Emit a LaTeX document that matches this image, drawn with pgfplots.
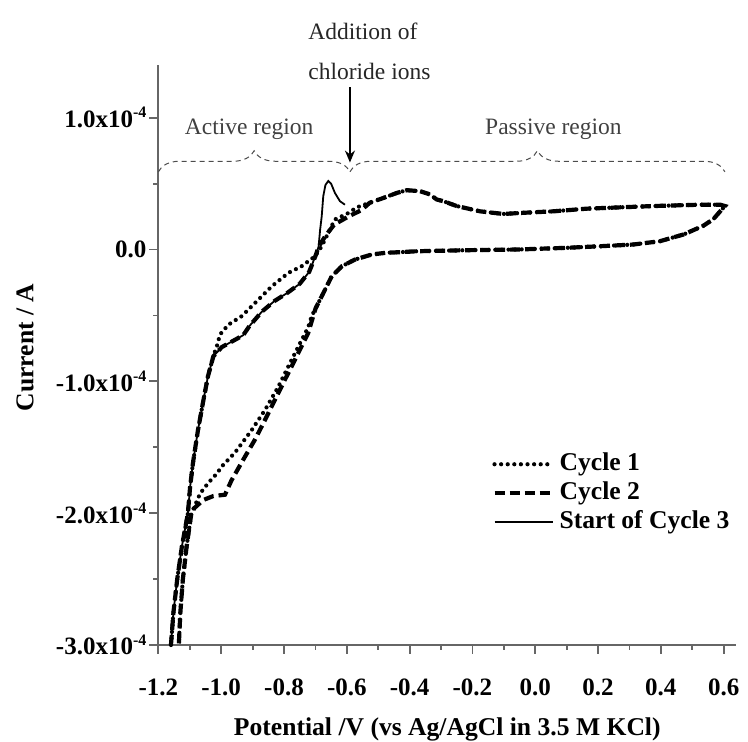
\documentclass[border=0pt]{standalone}
\usepackage{fontspec}
\setmainfont{Liberation Serif}
\usepackage{pgfplots}
\pgfplotsset{compat=1.18}
\usetikzlibrary{decorations.pathreplacing,arrows.meta}
\newcommand{\sci}[1]{#1x10\raisebox{0.85ex}{\fontsize{8}{9}\selectfont -4}}
\begin{document}
\begin{tikzpicture}
\path[use as bounding box] (-79.2pt,-48.5pt) rectangle (294.8pt,322.5pt);
\begin{axis}[
  scale only axis, width=288.9pt, height=290pt,
  at={(0,0)}, anchor=south west,
  xmin=-1.2, xmax=0.64, ymin=-3.0, ymax=1.4,
  axis x line*=bottom, axis y line*=left,
  axis line style={line width=0.9pt, color=black!60, -},
  xtick={-1.2,-1.0,-0.8,-0.6,-0.4,-0.2,0,0.2,0.4,0.6},
  xticklabels={-1.2,-1.0,-0.8,-0.6,-0.4,-0.2,0.0,0.2,0.4,0.6},
  minor xtick={-1.1,-0.9,-0.7,-0.5,-0.3,-0.1,0.1,0.3,0.5},
  ytick={-3,-2,-1,0,1},
  yticklabels={\sci{-3.0},\sci{-2.0},\sci{-1.0},0.0\hspace{2.5pt},\sci{1.0}},
  minor ytick={-2.5,-1.5,-0.5,0.5},
  tick align=outside,
  major tick length=4.5pt, minor tick length=2.5pt,
  every tick/.style={line width=0.9pt, color=black!60},
  every minor tick/.style={line width=0.9pt, color=black!60},
  ticklabel style={font=\fontsize{12.5}{14}\selectfont\bfseries},
  xticklabel style={yshift=-9pt},
  yticklabel style={xshift=2pt},
  xlabel={Potential /V (vs Ag/AgCl in 3.5 M KCl)},
  ylabel={Current / A},
  xlabel style={font=\fontsize{12.8}{15}\selectfont\bfseries, at={(axis description cs:0.5,-0.146)}, anchor=center},
  ylabel style={font=\fontsize{12.8}{15}\selectfont\bfseries, at={(axis description cs:-0.2309,0.513)}, anchor=center},
  clip=false,
  legend cell align=left,
  legend style={draw=none, fill=none, at={(axis description cs:0.5774,0.333)}, anchor=north west,
    inner sep=0pt, row sep=2.5pt, column sep=2.5pt,
    nodes={inner sep=0pt, text height=9pt, text depth=3pt},
    font=\fontsize{12.8}{15}\selectfont\bfseries},
  legend image code/.code={\draw[#1] (0pt,0pt) -- (29pt,0pt);},
]
% Cycle 1
\addplot[black, line width=2.1pt, line cap=round, dash pattern=on 0pt off 3.3pt] coordinates {
(-1.160,-3.00) (-1.152,-2.75) (-1.140,-2.50) (-1.125,-2.25) (-1.106,-2.00) (-1.099,-1.80) (-1.090,-1.62) (-1.074,-1.37) (-1.058,-1.16) (-1.042,-0.96) (-1.025,-0.81)
(-1.012,-0.72) (-1.004,-0.645) (-0.977,-0.57) (-0.935,-0.506) (-0.892,-0.405) (-0.839,-0.279) (-0.786,-0.177) (-0.744,-0.127) (-0.701,-0.051) (-0.680,0.025) (-0.659,0.127) (-0.638,0.228) (-0.600,0.270)
(-0.568,0.32) (-0.527,0.355) (-0.485,0.39) (-0.440,0.43) (-0.409,0.45) (-0.367,0.443) (-0.335,0.418) (-0.314,0.38) (-0.293,0.367) (-0.250,0.33) (-0.176,0.29) (-0.102,0.27) (-0.027,0.28) (0.058,0.29) (0.164,0.31) (0.270,0.32) (0.376,0.33) (0.525,0.34) (0.589,0.34) (0.604,0.33)
(0.589,0.29) (0.567,0.23) (0.535,0.18) (0.472,0.114) (0.397,0.063) (0.312,0.038) (0.206,0.025) (0.100,0.013) (-0.059,0.0) (-0.218,-0.005) (-0.377,-0.013) (-0.430,-0.02) (-0.478,-0.025) (-0.521,-0.038) (-0.574,-0.076) (-0.616,-0.127) (-0.648,-0.203) (-0.680,-0.355)
(-0.712,-0.506) (-0.723,-0.59) (-0.754,-0.734) (-0.786,-0.886) (-0.818,-1.04) (-0.860,-1.215) (-0.903,-1.37) (-0.956,-1.54) (-0.998,-1.645) (-1.014,-1.70) (-1.041,-1.77) (-1.067,-1.85) (-1.085,-1.95) (-1.095,-2.00) (-1.110,-2.25) (-1.122,-2.50) (-1.130,-2.75) (-1.135,-3.00)
};
\addlegendentry{Cycle 1}
% Cycle 2
\addplot[black, line width=2.1pt, dash pattern=on 5pt off 2.5pt] coordinates {
(-1.160,-3.00) (-1.152,-2.75) (-1.140,-2.50) (-1.125,-2.25) (-1.106,-2.00) (-1.099,-1.80) (-1.090,-1.62) (-1.074,-1.37) (-1.058,-1.16) (-1.042,-0.96) (-1.025,-0.81)
(-0.998,-0.74) (-0.960,-0.69) (-0.930,-0.65) (-0.910,-0.58) (-0.870,-0.47) (-0.830,-0.39) (-0.790,-0.33) (-0.750,-0.26) (-0.720,-0.17) (-0.700,-0.05) (-0.690,0.02) (-0.669,0.10) (-0.640,0.19) (-0.595,0.25) (-0.553,0.30)
(-0.527,0.355) (-0.485,0.39) (-0.440,0.43) (-0.409,0.45) (-0.367,0.443) (-0.335,0.418) (-0.314,0.38) (-0.293,0.367) (-0.250,0.33) (-0.176,0.29) (-0.102,0.27) (-0.027,0.28) (0.058,0.29) (0.164,0.31) (0.270,0.32) (0.376,0.33) (0.525,0.34) (0.589,0.34) (0.604,0.33)
(0.589,0.29) (0.567,0.23) (0.535,0.18) (0.472,0.114) (0.397,0.063) (0.312,0.038) (0.206,0.025) (0.100,0.013) (-0.059,0.0) (-0.218,-0.005) (-0.377,-0.013) (-0.430,-0.02) (-0.478,-0.025) (-0.521,-0.038) (-0.574,-0.076) (-0.616,-0.127) (-0.648,-0.203) (-0.680,-0.355)
(-0.700,-0.45) (-0.723,-0.633) (-0.744,-0.734) (-0.765,-0.835) (-0.797,-0.987) (-0.829,-1.14) (-0.860,-1.29) (-0.892,-1.44) (-0.924,-1.57) (-0.967,-1.75) (-0.988,-1.86) (-1.025,-1.87) (-1.057,-1.90) (-1.085,-1.96) (-1.095,-2.00) (-1.110,-2.25) (-1.122,-2.50) (-1.130,-2.75) (-1.135,-3.00)
};
\addlegendentry{Cycle 2}
% Start of Cycle 3
\addplot[black, line width=0.9pt] coordinates {
(-1.160,-3.00) (-1.152,-2.75) (-1.140,-2.50) (-1.125,-2.25) (-1.106,-2.00) (-1.099,-1.80) (-1.090,-1.62) (-1.074,-1.37) (-1.058,-1.16) (-1.042,-0.96) (-1.025,-0.81)
(-0.998,-0.74) (-0.960,-0.69) (-0.930,-0.65) (-0.910,-0.58) (-0.870,-0.47) (-0.830,-0.39) (-0.790,-0.33) (-0.750,-0.26) (-0.720,-0.17) (-0.700,-0.05) (-0.690,0.02)
(-0.685,0.15) (-0.680,0.25) (-0.675,0.405) (-0.668,0.49) (-0.659,0.52) (-0.650,0.50) (-0.638,0.43) (-0.622,0.367) (-0.606,0.34)
};
\addlegendentry{Start of Cycle 3}
% annotations
\draw[black!70, line width=0.5pt, dash pattern=on 2.5pt off 2pt, decorate, decoration={brace, amplitude=10.5pt, aspect=0.5}]
  (axis cs:-1.2,0.59) -- (axis cs:-0.59,0.59);
\draw[black!70, line width=0.5pt, dash pattern=on 2.5pt off 2pt, decorate, decoration={brace, amplitude=10.5pt, aspect=0.5}]
  (axis cs:-0.59,0.59) -- (axis cs:0.604,0.59);
\draw[black, line width=0.8pt, -{Stealth[length=6pt,width=5pt]}] (axis cs:-0.59,1.23) -- (axis cs:-0.59,0.66);
\node[black!75, font=\fontsize{11.75}{14}\selectfont] at (axis cs:-0.911,0.911) {Active region};
\node[black!75, font=\fontsize{11.75}{14}\selectfont] at (axis cs:0.058,0.911) {Passive region};
\node[black!85, anchor=west, inner sep=0pt, font=\fontsize{11.75}{14}\selectfont] at (axis cs:-0.7236,1.655) {Addition of};
\node[black!85, anchor=west, inner sep=0pt, font=\fontsize{11.75}{14}\selectfont] at (axis cs:-0.7236,1.352) {chloride ions};
\end{axis}
\end{tikzpicture}
\end{document}
